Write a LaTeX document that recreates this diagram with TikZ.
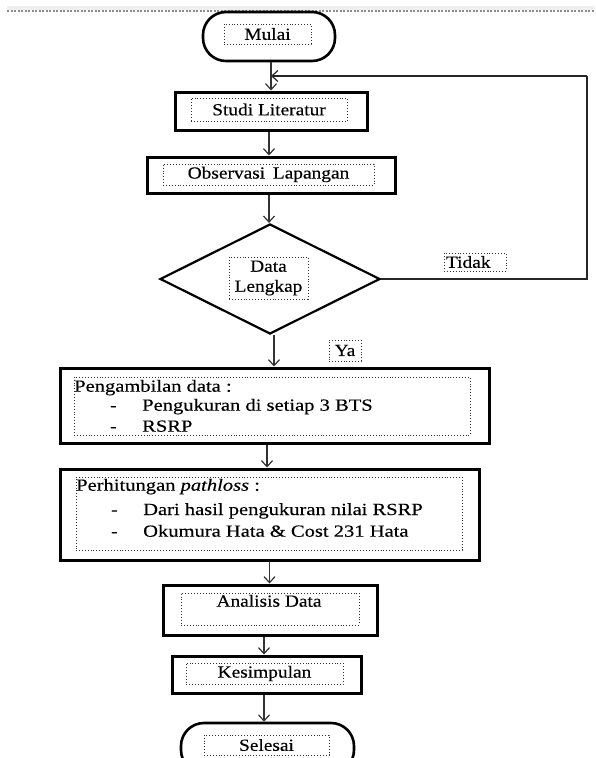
\documentclass[tikz,border=0pt]{standalone}
\usepackage{fontspec}
\usepackage{graphicx}
\setmainfont{Liberation Serif}[FakeStretch=1.14,FakeBold=0.3]
\usetikzlibrary{arrows.meta,shapes.geometric}
\newcommand{\widetxt}[1]{\scalebox{1.06}[1]{#1}}
\begin{document}
\begin{tikzpicture}[x=1pt,y=-1pt,
  every node/.style={font=\fontsize{17}{21}\selectfont},
  outerbox/.style={draw=black,line width=3pt,rectangle,inner sep=0pt},
  termbox/.style={draw=black,line width=2.6pt,rectangle,rounded corners=23pt,inner sep=0pt},
  dotbox/.style={draw=black!80,dotted,line width=0.9pt,rectangle,inner sep=0pt},
  txt/.style={anchor=base west,inner sep=0pt},
  arr/.style={draw=black!80,line width=1.3pt,-{Straight Barb[length=6pt,width=11pt,line width=1.2pt]}},
  fbline/.style={draw=black!85,line width=1.4pt}
]
\useasboundingbox (0,0) rectangle (595,758);
\begin{scope}
\clip (0,0) rectangle (595,758);
% top page edge
\fill[black!6] (7,6) rectangle (595,10);
\draw[black!45,dash pattern=on 2pt off 1.5pt,line width=1.3pt] (7,11) -- (595,11);

% Mulai
\node[termbox,minimum width=132pt,minimum height=49pt] (mulai) at (269,36.5) {};
\node[dotbox,minimum width=87pt,minimum height=20pt] (mulaiT) at (267.5,34) {Mulai};

% Studi Literatur
\node[outerbox,minimum width=192pt,minimum height=38pt] (studi) at (271,111) {};
\node[dotbox,minimum width=156pt,minimum height=23pt] (studiT) at (269,109.5) {Studi Literatur};

% Observasi Lapangan
\node[outerbox,minimum width=248pt,minimum height=36pt] (obs) at (271,175) {};
\node[dotbox,minimum width=211pt,minimum height=21pt] (obsT) at (268.5,174.5) {Observasi\, Lapangan};

% Decision
\node[draw=black,line width=2.2pt,diamond,minimum width=220pt,minimum height=110pt,inner sep=0pt] (dec) at (270,279) {};
\node[dotbox,minimum width=79pt,minimum height=42pt,align=center,font=\fontsize{17}{20}\selectfont] (decT) at (268.5,278) {Data\\Lengkap};

% labels
\node[dotbox,minimum width=62pt,minimum height=18pt,text width=58pt,align=left] (tidak) at (475,262) {Tidak};
\node[dotbox,minimum width=32pt,minimum height=21pt] (ya) at (345,350.5) {Ya};

% Pengambilan data
\node[outerbox,minimum width=429pt,minimum height=75pt] (peng) at (274.5,405.5) {};
\node[dotbox,minimum width=396pt,minimum height=58pt] (pengT) at (272,406) {};
\node[txt] (p1) at (74,391.7) {\widetxt{Pengambilan data :}};
\node[txt] (p2d) at (110,410.7) {-};
\node[txt] (p2) at (142,410.7) {\widetxt{Pengukuran\ di\ setiap\ 3\ BTS}};
\node[txt] (p3d) at (110,431.7) {-};
\node[txt] (p3) at (142,431.7) {\widetxt{RSRP}};

% Perhitungan pathloss
\node[outerbox,minimum width=419pt,minimum height=91pt] (perh) at (269.5,514.5) {};
\node[dotbox,minimum width=386pt,minimum height=73pt] (perhT) at (269,513.5) {};
\node[txt] (q1) at (76,490.7) {\widetxt{Perhitungan \textit{pathloss} :}};
\node[txt] (q2d) at (111,515) {-};
\node[txt] (q2) at (143,515) {\widetxt{Dari hasil pengukuran nilai RSRP}};
\node[txt] (q3d) at (111,536.7) {-};
\node[txt] (q3) at (143,536.7) {\widetxt{Okumura Hata \& Cost 231 Hata}};

% Analisis Data
\node[outerbox,minimum width=214pt,minimum height=50pt] (anal) at (270,610) {};
\node[dotbox,minimum width=178pt,minimum height=32pt] (analT) at (270,609) {};
\node[inner sep=0pt,anchor=base] (analL) at (269,606.7) {Analisis Data};

% Kesimpulan
\node[outerbox,minimum width=189pt,minimum height=37pt] (kes) at (266.5,674.5) {};
\node[dotbox,minimum width=157pt,minimum height=21pt] (kesT) at (264.5,673.5) {Kesimpulan};

% Selesai
\node[termbox,minimum width=173pt,minimum height=50pt] (sel) at (267.5,748) {};
\node[dotbox,minimum width=125pt,minimum height=20pt] (selT) at (266.5,745) {Selesai};

% arrows
\draw[arr] ([xshift=2pt]mulai.south) -- ([xshift=2pt]mulai.south |- studi.north);
\draw[arr] ([xshift=-2pt]studi.south) -- ([xshift=-2pt]studi.south |- obs.north);
\draw[arr] ([xshift=-2pt]obs.south) -- ([xshift=-2pt]obs.south |- dec.north);
\draw[arr] ([xshift=4pt]dec.south) -- ([xshift=4pt]dec.south |- peng.north);
\draw[arr] ([xshift=-7.5pt]peng.south) -- ([xshift=-7.5pt]peng.south |- perh.north);
\draw[arr] (perh.south) -- (perh.south |- anal.north);
\draw[arr] ([xshift=-6pt]anal.south) -- ([xshift=-6pt]anal.south |- kes.north);
\draw[arr] ([xshift=-2.5pt]kes.south) -- ([xshift=-2.5pt]kes.south |- sel.north);

% feedback loop
\coordinate (fbc) at (587,76);
\draw[fbline] (dec.east) -| (fbc);
\draw[fbline,-{Straight Barb[length=6pt,width=11pt,line width=1.2pt]}] (fbc) -- ([xshift=2pt]mulai.south |- fbc);
\end{scope}
\end{tikzpicture}
\end{document}
